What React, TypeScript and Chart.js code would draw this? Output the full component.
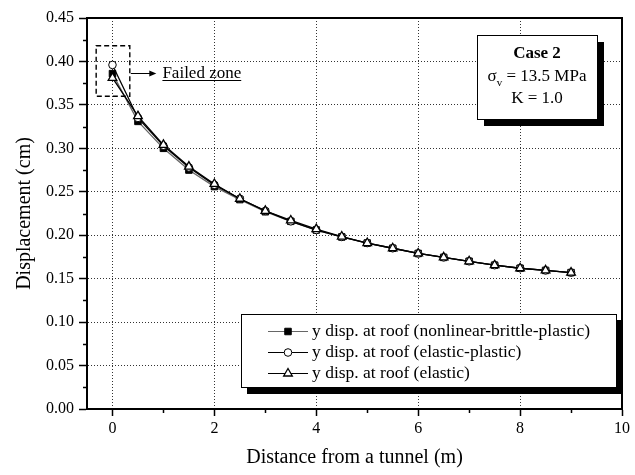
import React, { useEffect, useRef } from 'react';
import { Chart, registerables } from 'chart.js';
import { drawPoint } from 'chart.js/helpers';

Chart.register(...registerables);

const FONT = '"Liberation Serif", "Times New Roman", serif';

const distances = [0, 0.5, 1, 1.5, 2, 2.5, 3, 3.5, 4, 4.5, 5, 5.5, 6, 6.5, 7, 7.5, 8, 8.5, 9];
const nonlinearBrittlePlastic = [0.386, 0.331, 0.300, 0.275, 0.256, 0.241, 0.227, 0.216, 0.206, 0.198, 0.191, 0.185, 0.179, 0.1745, 0.170, 0.1655, 0.162, 0.1595, 0.157];
const elasticPlastic = [0.396, 0.335, 0.303, 0.278, 0.258, 0.242, 0.228, 0.216, 0.206, 0.198, 0.191, 0.185, 0.179, 0.1745, 0.170, 0.1655, 0.162, 0.1595, 0.157];
const elastic = [0.381, 0.337, 0.304, 0.279, 0.259, 0.242, 0.228, 0.217, 0.207, 0.1985, 0.191, 0.185, 0.179, 0.1745, 0.170, 0.1655, 0.162, 0.1595, 0.157];

const seriesLabels = [
  'y disp. at roof (nonlinear-brittle-plastic)',
  'y disp. at roof (elastic-plastic)',
  'y disp. at roof (elastic)',
];

const xMajorTicks = [0, 2, 4, 6, 8, 10];
const xMinorTicks = [1, 3, 5, 7, 9];
const yMajorTicks = [0, 0.05, 0.1, 0.15, 0.2, 0.25, 0.3, 0.35, 0.4, 0.45];
const yMinorTicks = [0.025, 0.075, 0.125, 0.175, 0.225, 0.275, 0.325, 0.375, 0.425];

const xTitle = 'Distance from a tunnel (m)';
const yTitle = 'Displacement (cm)';
const caseTitle = 'Case 2';
const stressSymbol = 'σ';
const stressSub = 'v';
const stressValue = ' = 13.5 MPa';
const kLabel = 'K = 1.0';
const failedZoneLabel = 'Failed zone';

const decorPlugin = {
  id: 'decor',
  afterDraw(chart: any) {
    const { ctx, chartArea: ca, scales } = chart;
    const xs = scales.x;
    const ys = scales.y;
    ctx.save();

    // top & right frame
    ctx.strokeStyle = '#000';
    ctx.lineWidth = 2;
    ctx.beginPath();
    ctx.moveTo(ca.left, ca.top);
    ctx.lineTo(ca.right, ca.top);
    ctx.lineTo(ca.right, ca.bottom);
    ctx.stroke();

    // minor ticks
    ctx.lineWidth = 1.5;
    ctx.beginPath();
    xMinorTicks.forEach((v) => {
      const px = Math.round(xs.getPixelForValue(v)) + 0.5;
      ctx.moveTo(px, ca.bottom);
      ctx.lineTo(px, ca.bottom + 4);
    });
    yMinorTicks.forEach((v) => {
      const py = Math.round(ys.getPixelForValue(v)) + 0.5;
      ctx.moveTo(ca.left, py);
      ctx.lineTo(ca.left - 4, py);
    });
    ctx.stroke();

    // failed zone box
    const fx1 = xs.getPixelForValue(-0.32);
    const fx2 = xs.getPixelForValue(0.34);
    const fy1 = ys.getPixelForValue(0.418);
    const fy2 = ys.getPixelForValue(0.36);
    ctx.setLineDash([5, 3]);
    ctx.lineWidth = 1.4;
    ctx.strokeRect(fx1, fy1, fx2 - fx1, fy2 - fy1);
    ctx.setLineDash([]);
    const ay = Math.round(ys.getPixelForValue(0.387)) + 0.5;
    const aEnd = xs.getPixelForValue(0.86);
    ctx.lineWidth = 1;
    ctx.beginPath();
    ctx.moveTo(fx2 + 1, ay);
    ctx.lineTo(aEnd - 5, ay);
    ctx.stroke();
    ctx.fillStyle = '#000';
    ctx.beginPath();
    ctx.moveTo(aEnd, ay);
    ctx.lineTo(aEnd - 7, ay - 3);
    ctx.lineTo(aEnd - 7, ay + 3);
    ctx.closePath();
    ctx.fill();
    ctx.font = `17px ${FONT}`;
    ctx.textBaseline = 'alphabetic';
    ctx.textAlign = 'left';
    const tx = xs.getPixelForValue(0.98);
    const tBase = ay + 4;
    ctx.fillText(failedZoneLabel, tx, tBase);
    const tw = ctx.measureText(failedZoneLabel).width;
    ctx.lineWidth = 1;
    ctx.beginPath();
    ctx.moveTo(tx, Math.round(tBase + 2) + 0.5);
    ctx.lineTo(tx + tw, Math.round(tBase + 2) + 0.5);
    ctx.stroke();

    // Case box
    const cbL = ca.left + 390;
    const cbT = ca.top + 17;
    const cbW = 120;
    const cbH = 84;
    ctx.fillStyle = '#000';
    ctx.fillRect(cbL + 7, cbT + 7, cbW, cbH);
    ctx.fillStyle = '#fff';
    ctx.fillRect(cbL, cbT, cbW, cbH);
    ctx.strokeStyle = '#000';
    ctx.lineWidth = 1;
    ctx.strokeRect(cbL + 0.5, cbT + 0.5, cbW, cbH);
    const cx = cbL + cbW / 2;
    ctx.fillStyle = '#000';
    ctx.textBaseline = 'middle';
    ctx.textAlign = 'center';
    ctx.font = `bold 17px ${FONT}`;
    ctx.fillText(caseTitle, cx, cbT + 19);
    ctx.font = `17px ${FONT}`;
    const w1 = ctx.measureText(stressSymbol).width;
    const w3 = ctx.measureText(stressValue).width;
    ctx.font = `11px ${FONT}`;
    const w2 = ctx.measureText(stressSub).width;
    let sx = cx - (w1 + w2 + w3) / 2;
    ctx.textAlign = 'left';
    ctx.font = `17px ${FONT}`;
    ctx.fillText(stressSymbol, sx, cbT + 42);
    sx += w1;
    ctx.font = `11px ${FONT}`;
    ctx.fillText(stressSub, sx, cbT + 48);
    sx += w2;
    ctx.font = `17px ${FONT}`;
    ctx.fillText(stressValue, sx, cbT + 42);
    ctx.textAlign = 'center';
    ctx.fillText(kLabel, cx, cbT + 64);

    // Legend
    const lgL = ca.left + 154;
    const lgT = ca.top + 296;
    const lgW = 375;
    const lgH = 73;
    ctx.fillStyle = '#000';
    ctx.fillRect(lgL + 6, lgT + 6, lgW, lgH + 1);
    ctx.fillStyle = '#fff';
    ctx.fillRect(lgL, lgT, lgW, lgH);
    ctx.strokeStyle = '#000';
    ctx.lineWidth = 1;
    ctx.strokeRect(lgL + 0.5, lgT + 0.5, lgW, lgH);
    ctx.font = `17.5px ${FONT}`;
    ctx.textAlign = 'left';
    ctx.textBaseline = 'middle';
    chart.data.datasets.forEach((ds: any, i: number) => {
      const ry = Math.round(lgT + 17 + i * 21) + 0.5;
      ctx.strokeStyle = ds.borderColor;
      ctx.lineWidth = 1;
      ctx.beginPath();
      ctx.moveTo(lgL + 27, ry);
      ctx.lineTo(lgL + 67, ry);
      ctx.stroke();
      ctx.fillStyle = ds.pointBackgroundColor;
      ctx.strokeStyle = ds.pointBorderColor;
      ctx.lineWidth = ds.pointBorderWidth;
      drawPoint(ctx, { pointStyle: ds.pointStyle, rotation: 0, radius: ds.pointRadius, borderWidth: ds.pointBorderWidth }, lgL + 47, ry);
      ctx.fillStyle = '#000';
      ctx.fillText(ds.label, lgL + 71, ry);
    });

    ctx.restore();
  },
};

export default function App() {
  const canvasRef = useRef<HTMLCanvasElement | null>(null);

  useEffect(() => {
    if (!canvasRef.current) return;
    const toPoints = (ys: number[]) => distances.map((x, i) => ({ x, y: ys[i] }));
    const chart = new Chart(canvasRef.current, {
      type: 'line',
      data: {
        datasets: [
          {
            label: seriesLabels[0],
            data: toPoints(nonlinearBrittlePlastic),
            borderColor: '#666',
            borderWidth: 1.3,
            pointStyle: 'rect',
            pointRadius: 4.6,
            pointBackgroundColor: '#000',
            pointBorderColor: '#000',
            pointBorderWidth: 1,
            order: 3,
          },
          {
            label: seriesLabels[1],
            data: toPoints(elasticPlastic),
            borderColor: '#000',
            borderWidth: 1.3,
            pointStyle: 'circle',
            pointRadius: 3.8,
            pointBackgroundColor: '#fff',
            pointBorderColor: '#000',
            pointBorderWidth: 1,
            order: 2,
          },
          {
            label: seriesLabels[2],
            data: toPoints(elastic),
            borderColor: '#000',
            borderWidth: 1.3,
            pointStyle: 'triangle',
            pointRadius: 5,
            pointBackgroundColor: '#fff',
            pointBorderColor: '#000',
            pointBorderWidth: 1.3,
            order: 1,
          },
        ],
      } as any,
      options: {
        responsive: false,
        animation: false,
        layout: { padding: { top: 18, right: 13, left: 0, bottom: 0 } },
        plugins: { legend: { display: false }, tooltip: { enabled: false } },
        scales: {
          x: {
            type: 'linear',
            min: -0.5,
            max: 10,
            afterBuildTicks: (s: any) => {
              s.ticks = xMajorTicks.map((v) => ({ value: v }));
            },
            afterFit: (s: any) => {
              s.height = 66;
            },
            ticks: {
              color: '#000',
              font: { family: FONT, size: 16 },
              padding: 3,
              maxRotation: 0,
              autoSkip: false,
              callback: (v: any) => String(v),
            },
            grid: {
              color: '#333',
              lineWidth: 1,
              tickColor: '#000',
              tickLength: 7,
              tickWidth: 1.5,
              tickBorderDash: [],
            },
            border: { color: '#000', width: 2, dash: [1, 2] },
            title: {
              display: true,
              text: xTitle,
              color: '#000',
              font: { family: FONT, size: 20 },
              padding: { top: 0, bottom: 5 },
            },
          },
          y: {
            type: 'linear',
            min: 0,
            max: 0.45,
            afterBuildTicks: (s: any) => {
              s.ticks = yMajorTicks.map((v) => ({ value: v }));
            },
            afterFit: (s: any) => {
              s.width = 87;
            },
            ticks: {
              color: '#000',
              font: { family: FONT, size: 16 },
              padding: 5,
              autoSkip: false,
              callback: (v: any) => Number(v).toFixed(2),
            },
            grid: {
              color: '#333',
              lineWidth: 1,
              tickColor: '#000',
              tickLength: 8,
              tickWidth: 1.5,
              tickBorderDash: [],
            },
            border: { color: '#000', width: 2, dash: [1, 2] },
            title: {
              display: true,
              text: yTitle,
              color: '#000',
              font: { family: FONT, size: 20 },
              padding: { top: 13, bottom: 0 },
            },
          },
        },
      } as any,
      plugins: [decorPlugin],
    });
    return () => chart.destroy();
  }, []);

  return (
    <div style={{ position: 'absolute', left: 0, top: 0, width: 635, height: 475, background: '#fff' }}>
      <canvas ref={canvasRef} width={635} height={475} />
    </div>
  );
}
